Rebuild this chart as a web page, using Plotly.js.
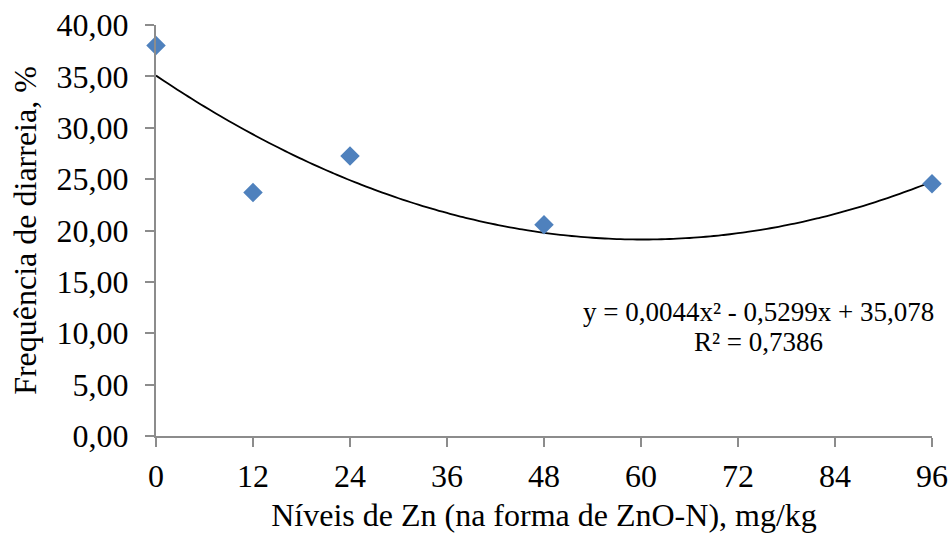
<!DOCTYPE html>
<html>
<head>
<meta charset="utf-8">
<script src="https://cdn.plot.ly/plotly-3.0.1.min.js"></script>
<style>html,body{margin:0;padding:0;background:#fff;}#chart{width:952px;height:533px;}</style>
</head>
<body>
<div id="chart"></div>
<script>
// Data
const zincLevels = [0, 12, 24, 48, 96];
const diarrheaFreq = [38.0, 23.7, 27.25, 20.55, 24.55];
// Polynomial trendline coefficients shown on the chart (a x^2 + b x + c)
const trendCoef = [0.0044, -0.5299, 35.078];
const xTicks = [0, 12, 24, 36, 48, 60, 72, 84, 96];
const yTicks = [0, 5, 10, 15, 20, 25, 30, 35, 40];
const equationText = "y = 0,0044x² - 0,5299x + 35,078";
const r2Text = "R² = 0,7386";

const trendX = [];
const trendY = [];
for (let x = 0; x <= 96; x += 1) {
  trendX.push(x);
  trendY.push(trendCoef[0] * x * x + trendCoef[1] * x + trendCoef[2]);
}

const font = "'Liberation Serif', 'Times New Roman', serif";
const axisColor = "#8c8c8c";

const data = [
  {
    x: trendX, y: trendY, type: "scatter", mode: "lines",
    line: {color: "#000000", width: 1.8, shape: "spline"},
    hoverinfo: "skip", cliponaxis: false
  },
  {
    x: zincLevels, y: diarrheaFreq, type: "scatter", mode: "markers",
    marker: {symbol: "diamond", size: 15, color: "#4f81bd"},
    cliponaxis: false
  }
];

const layout = {
  width: 952, height: 533,
  margin: {l: 156, r: 20, t: 25, b: 97},
  paper_bgcolor: "#ffffff", plot_bgcolor: "#ffffff",
  showlegend: false,
  separators: ",.",
  font: {family: font, color: "#000000", size: 32},
  xaxis: {
    range: [0, 96], tickvals: xTicks, ticktext: xTicks.map(String),
    showgrid: false, zeroline: false, showline: true,
    linecolor: axisColor, linewidth: 2,
    ticks: "outside", ticklen: 9, tickwidth: 2, tickcolor: axisColor,
    ticklabelstandoff: 2,
    tickfont: {family: font, size: 32, color: "#000"},
    title: {text: "Níveis de Zn (na forma de ZnO-N), mg/kg", font: {family: font, size: 32, color: "#000"}, standoff: 16}
  },
  yaxis: {
    range: [0, 40], tickvals: yTicks, tickformat: ".2f",
    showgrid: false, zeroline: false, showline: true,
    linecolor: axisColor, linewidth: 2,
    ticks: "outside", ticklen: 9, tickwidth: 2, tickcolor: axisColor,
    ticklabelstandoff: 10,
    tickfont: {family: font, size: 32, color: "#000"},
    title: {text: "Frequência de diarreia, %", font: {family: font, size: 32, color: "#000"}, standoff: 10}
  },
  annotations: [
    {
      xref: "paper", yref: "paper", x: 0.777, y: 0.302, xanchor: "center", yanchor: "middle",
      text: equationText, showarrow: false,
      font: {family: font, size: 27, color: "#000"}
    },
    {
      xref: "paper", yref: "paper", x: 0.777, y: 0.229, xanchor: "center", yanchor: "middle",
      text: r2Text, showarrow: false,
      font: {family: font, size: 27, color: "#000"}
    }
  ]
};

Plotly.newPlot("chart", data, layout, {displayModeBar: false, staticPlot: true});
</script>
</body>
</html>
